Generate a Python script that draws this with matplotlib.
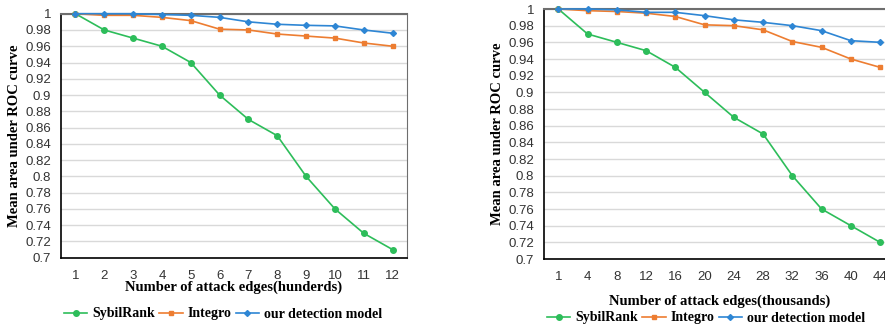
import numpy as np
import matplotlib as mpl
import matplotlib.pyplot as plt

mpl.rcParams['font.family'] = 'Liberation Sans'

# left chart: attack edges in hundreds
x_left = ['1', '2', '3', '4', '5', '6', '7', '8', '9', '10', '11', '12']
sybil_left = [1.0, 0.98, 0.97, 0.96, 0.94, 0.90, 0.87, 0.85, 0.80, 0.76, 0.73, 0.71]
integro_left = [1.0, 0.998, 0.998, 0.9955, 0.9915, 0.981, 0.980, 0.975, 0.9725, 0.970, 0.964, 0.960]
ours_left = [1.0, 1.0, 1.0, 0.999, 0.998, 0.9955, 0.990, 0.987, 0.9857, 0.985, 0.980, 0.976]

# right chart: attack edges in thousands
x_right = ['1', '4', '8', '12', '16', '20', '24', '28', '32', '36', '40', '44']
sybil_right = [1.0, 0.97, 0.96, 0.95, 0.93, 0.90, 0.87, 0.85, 0.80, 0.76, 0.74, 0.72]
integro_right = [1.0, 0.998, 0.997, 0.995, 0.991, 0.981, 0.980, 0.975, 0.961, 0.954, 0.940, 0.930]
ours_right = [1.0, 1.0, 0.999, 0.996, 0.996, 0.992, 0.987, 0.984, 0.980, 0.974, 0.962, 0.960]

green = '#2dbd5a'
orange = '#ed7d31'
blue = '#2e86d4'
serif = 'Liberation Serif'

fig = plt.figure(figsize=(8.85, 3.3), dpi=100)


def draw(ax, labels, s, i, o, xlabel, xlabel_pad, legend_y, legend_x):
    pos = np.arange(len(labels))
    ax.plot(pos, s, color=green, marker='o', ms=4, lw=1.2, label='SybilRank', clip_on=False, zorder=3)
    ax.plot(pos, i, color=orange, marker='s', ms=3.5, lw=1.2, label='Integro', clip_on=False, zorder=3)
    ax.plot(pos, o, color=blue, marker='D', ms=3, lw=1.2, label='our detection model', clip_on=False, zorder=4)
    ax.set_xlim(-0.5, len(labels) - 0.5)
    ax.set_ylim(0.7, 1.0)
    ax.set_xticks(pos)
    ax.set_xticklabels(labels)
    yt = np.round(np.arange(0.70, 1.001, 0.02), 2)
    ax.set_yticks(yt)
    ax.set_yticklabels(['%g' % v for v in yt])
    ax.tick_params(axis='both', length=0, labelsize=9.5, colors='#333333')
    ax.tick_params(axis='y', pad=7)
    ax.tick_params(axis='x', pad=9)
    ax.grid(axis='y', color='#d9d9d9', lw=1)
    ax.set_axisbelow(True)
    for sp in ['left', 'bottom']:
        ax.spines[sp].set_color('#000000')
        ax.spines[sp].set_linewidth(1.2)
    ax.spines['top'].set_color('#6e6e6e')
    ax.spines['top'].set_linewidth(1.5)
    ax.spines['right'].set_color('#6e6e6e')
    ax.set_xlabel(xlabel, family=serif, fontweight='bold', fontsize=10.5, labelpad=xlabel_pad)
    ax.set_ylabel('Mean area under ROC curve', family=serif, fontweight='bold', fontsize=10.5, labelpad=3)
    fig.legend(*ax.get_legend_handles_labels(), loc='center', bbox_to_anchor=(legend_x, legend_y),
               ncol=3, frameon=False, handlelength=1.7, handletextpad=0.35, columnspacing=0.3,
               prop={'family': serif, 'weight': 'bold', 'size': 10})


ax1 = fig.add_axes([61 / 885, 72.3 / 330, 346 / 885, 244 / 330])
draw(ax1, x_left, sybil_left, integro_left, ours_left,
     'Number of attack edges(hunderds)', -1, 1 - 314 / 330, 223 / 885)

ax2 = fig.add_axes([543.7 / 885, 71 / 330, 351 / 885, 250 / 330])
draw(ax2, x_right, sybil_right, integro_right, ours_right,
     'Number of attack edges(thousands)', 8, 1 - 318 / 330, 706 / 885)

fig.savefig('out.png', dpi=100)
